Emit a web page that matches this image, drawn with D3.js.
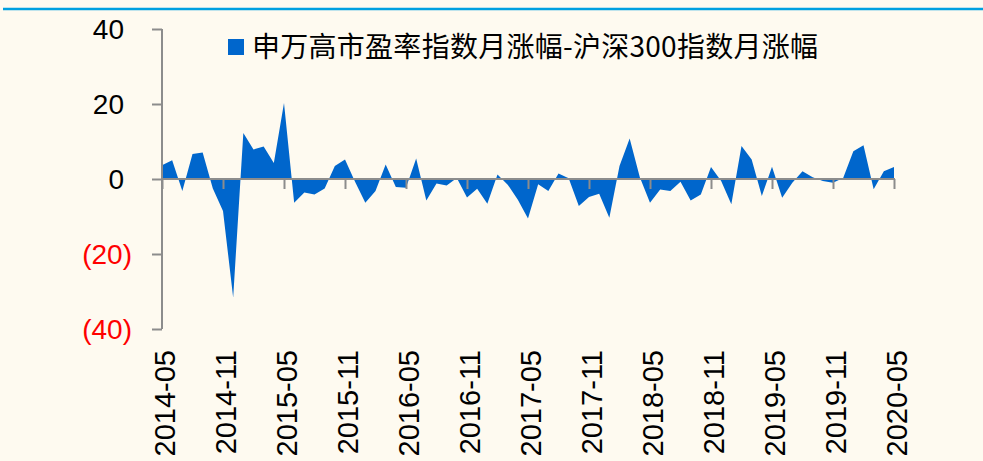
<!DOCTYPE html>
<html><head><meta charset="utf-8">
<script src="https://cdn.jsdelivr.net/npm/d3@7"></script>
<style>
html,body{margin:0;padding:0;background:#FEFAF0;}
svg{display:block;}
</style></head>
<body>
<svg id="chart" width="983" height="461"></svg>
<script>
const seriesName = "申万高市盈率指数月涨幅-沪深300指数月涨幅";
const startMonth = "2014-05";
const values = [
  3.7, 5.0, -3.2, 6.7, 7.1, -2.5, -8.5, -31.6,
  12.3, 7.9, 8.7, 4.3, 20.3, -6.3, -3.6, -4.1, -2.5, 3.5, 5.2, -0.8,
  -6.3, -3.2, 3.9, -2.1, -2.3, 5.5, -5.7, -1.2, -1.7, 0.3, -4.9, -2.6,
  -6.6, 1.2, -1.5, -5.5, -10.5, -1.4, -3.2, 1.5, 0.2, -7.2, -4.8, -3.9,
  -10.3, 3.5, 10.8, 0.5, -6.3, -2.8, -3.2, -0.7, -5.7, -4.1, 3.2, -0.5,
  -6.7, 8.8, 5.2, -4.5, 3.3, -5.0, -1.0, 2.1, 0.5, -0.5, -1.0, 0.3,
  7.4, 9.0, -2.7, 2.1, 3.2
];
const yTicks = [40, 20, 0, -20, -40];
const xTickLabels = ["2014-05","2014-11","2015-05","2015-11","2016-05","2016-11","2017-05","2017-11","2018-05","2018-11","2019-05","2019-11","2020-05"];

function monthLabel(i){
  const y0 = +startMonth.slice(0,4), m0 = +startMonth.slice(5,7) - 1;
  const t = m0 + i;
  const y = y0 + Math.floor(t/12), m = t % 12 + 1;
  return y + "-" + String(m).padStart(2,"0");
}
const months = values.map((v,i)=>monthLabel(i));

const svg = d3.select("#chart");
const W = 983, H = 461;

svg.append("line").attr("x1",3).attr("x2",W).attr("y1",9).attr("y2",9)
  .attr("stroke","#00A0E0").attr("stroke-width",2.5);

const x = d3.scalePoint().domain(months).range([162, 894]);
const y = d3.scaleLinear().domain([-40, 40]).range([329, 29]);

const area = d3.area()
  .x((d,i)=>x(months[i]))
  .y0(y(0))
  .y1(d=>y(d));
svg.append("path").datum(values).attr("d", area).attr("fill","#0066CC");

const axisColor = "#8C8C8C";
const yAxis = d3.axisLeft(y).tickValues(yTicks).tickSize(10).tickPadding(0).tickFormat(d=>d<0?"("+Math.abs(d)+")":String(d));
const gy = svg.append("g").attr("transform","translate(162,0)").call(yAxis);
gy.select(".domain").attr("stroke",axisColor).attr("stroke-width",2).attr("d","M0,29V329");
gy.selectAll(".tick line").attr("stroke",axisColor).attr("stroke-width",2);
gy.selectAll(".tick text")
  .attr("font-family","'Liberation Sans', Arial, sans-serif")
  .attr("font-size",28)
  .attr("fill",d=>d<0?"#FF0000":"#000000")
  .attr("text-anchor","end")
  .attr("x",d=>d<0?-30:-38)
  .attr("dy","0.33em");

const xAxis = d3.axisBottom(x).tickValues(xTickLabels).tickSize(10).tickFormat(d=>d);
const gx = svg.append("g").attr("transform","translate(0,"+y(0)+")").call(xAxis);
gx.select(".domain").attr("stroke",axisColor).attr("stroke-width",2).attr("d","M161,0H895");
gx.selectAll(".tick line").attr("stroke",axisColor).attr("stroke-width",2);
gx.selectAll(".tick text")
  .attr("font-family","'Liberation Sans', Arial, sans-serif")
  .attr("font-size",29)
  .attr("fill","#000")
  .attr("text-anchor","end")
  .attr("transform","translate(2,"+(350-y(0))+") rotate(-90)")
  .attr("x",0).attr("y",0).attr("dy","0.35em");

svg.append("rect").attr("x",228).attr("y",39).attr("width",16).attr("height",16).attr("fill","#0066CC");
svg.append("text").attr("x",252).attr("y",57)
  .attr("font-family","'Noto Sans CJK SC', sans-serif")
  .attr("font-size",28).attr("fill","#000")
  .attr("textLength",566).attr("lengthAdjust","spacing")
  .text(seriesName);
</script>
</body></html>
